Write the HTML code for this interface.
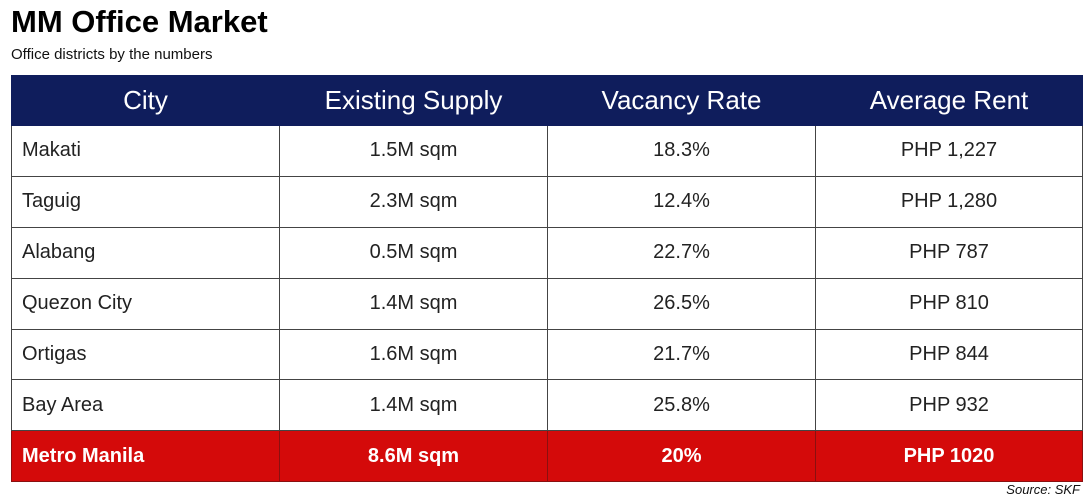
<!DOCTYPE html>
<html><head><meta charset="utf-8"><style>
body{margin:0;width:1092px;height:497px;background:#fff;position:relative;overflow:hidden;font-family:"Liberation Sans",sans-serif;}
.t{position:absolute;left:11px;top:4px;font-size:31px;font-weight:bold;color:#000;letter-spacing:0px}
.s{position:absolute;left:11px;top:46px;font-size:15px;color:#111}
table{position:absolute;left:11px;top:75px;width:1071px;border-collapse:collapse;table-layout:fixed}
td,th{height:49.9px;padding:0;border:1.5px solid #444;font-size:20px;color:#222;text-align:center}
th{background:#0f1d5c;color:#fff;font-weight:normal;font-size:26px;height:49px;border-color:#0f1d5c}
td:first-child{text-align:left;padding-left:10px}
tr.r td{background:#d40a0a;color:#fff;font-weight:bold;border-color:#8a1010}
.src{position:absolute;right:12px;top:482px;font-size:13px;font-style:italic;color:#111}
</style></head><body>
<div class="t">MM Office Market</div>
<div class="s">Office districts by the numbers</div>
<table>
<colgroup><col style="width:268px"><col style="width:268px"><col style="width:268px"><col style="width:267px"></colgroup>
<tr><th style="text-align:center;padding:0">City</th><th>Existing Supply</th><th>Vacancy Rate</th><th>Average Rent</th></tr>
<tr><td>Makati</td><td>1.5M sqm</td><td>18.3%</td><td>PHP 1,227</td></tr>
<tr><td>Taguig</td><td>2.3M sqm</td><td>12.4%</td><td>PHP 1,280</td></tr>
<tr><td>Alabang</td><td>0.5M sqm</td><td>22.7%</td><td>PHP 787</td></tr>
<tr><td>Quezon City</td><td>1.4M sqm</td><td>26.5%</td><td>PHP 810</td></tr>
<tr><td>Ortigas</td><td>1.6M sqm</td><td>21.7%</td><td>PHP 844</td></tr>
<tr><td>Bay Area</td><td>1.4M sqm</td><td>25.8%</td><td>PHP 932</td></tr>
<tr class="r"><td>Metro Manila</td><td>8.6M sqm</td><td>20%</td><td>PHP 1020</td></tr>
</table>
<div class="src">Source: SKF</div>
</body></html>
